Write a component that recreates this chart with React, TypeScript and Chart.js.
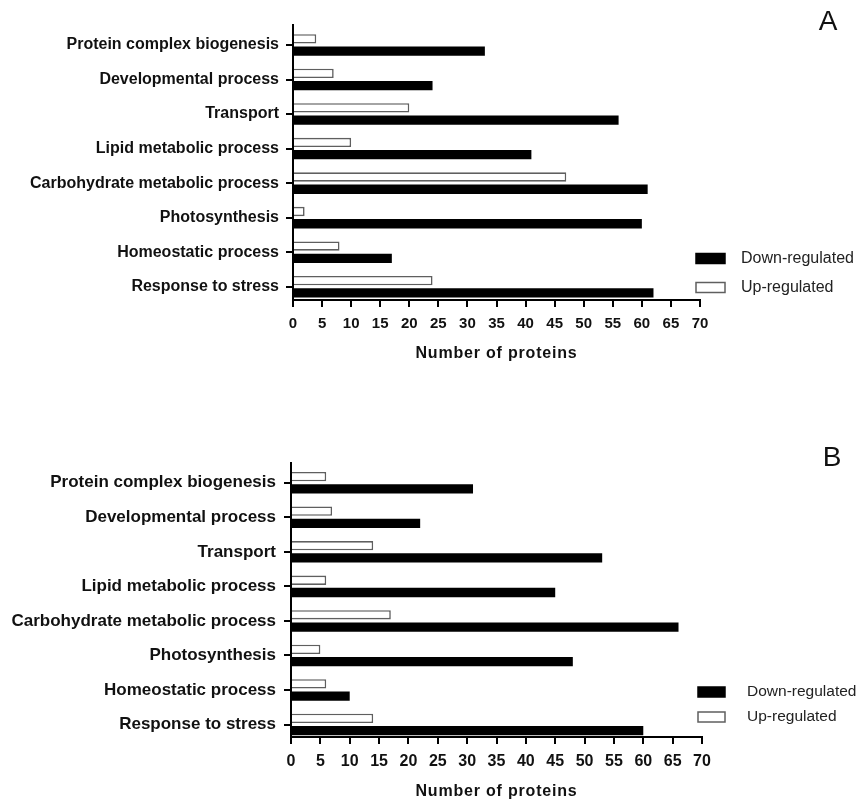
import React, { useEffect, useRef } from "react";
import { Chart, registerables } from "chart.js";

Chart.register(...registerables);

// ---------------- data ----------------
const categories = [
  "Protein complex biogenesis",
  "Developmental process",
  "Transport",
  "Lipid metabolic process",
  "Carbohydrate metabolic process",
  "Photosynthesis",
  "Homeostatic process",
  "Response to stress",
];
const seriesDown = "Down-regulated";
const seriesUp = "Up-regulated";
const aDown = [33, 24, 56, 41, 61, 60, 17, 62];
const aUp = [4, 7, 20, 10, 47, 2, 8, 24];
const bDown = [31, 22, 53, 45, 66, 48, 10, 60];
const bUp = [6, 7, 14, 6, 17, 5, 6, 14];
const xTickValues = [0, 5, 10, 15, 20, 25, 30, 35, 40, 45, 50, 55, 60, 65, 70];
const axisTitle = "Number of proteins";
const panelLetters = ["A", "B"];

// ---------------- styles ----------------
const FAMILY = "'Liberation Sans', Arial, Helvetica, sans-serif";
const UP_BORDER = "#5f5f5f";

type Panel = {
  top: number;
  height: number;
  areaLeft: number;
  areaRight: number;
  areaTop: number;
  areaBottom: number;
  yMin: number;
  yMax: number;
  yFont: number;
  xFont: number;
  titleFont: number;
  yPad: number;
  xPad: number;
  titlePadBottom: number;
  boxX: number;
  boxW: number;
  boxH: number;
  textX: number;
  legendRows: number[];
  legendFont: number;
  letter: string;
  letterX: number;
  letterBase: number;
  down: number[];
  up: number[];
};

const W = 867;

const panels: Panel[] = [
  {
    top: 0,
    height: 400,
    areaLeft: 293,
    areaRight: 700,
    areaTop: 25,
    areaBottom: 300,
    yMin: -0.579,
    yMax: 7.385,
    yFont: 16,
    xFont: 15,
    titleFont: 16,
    yPad: 7,
    xPad: 9,
    titlePadBottom: 38,
    boxX: 696,
    boxW: 29,
    boxH: 10,
    textX: 741,
    legendRows: [258.5, 287.5],
    legendFont: 16,
    letter: panelLetters[0],
    letterX: 828,
    letterBase: 30,
    down: aDown,
    up: aUp,
  },
  {
    top: 420,
    height: 381,
    areaLeft: 291,
    areaRight: 702,
    areaTop: 43,
    areaBottom: 317,
    yMin: -0.571,
    yMax: 7.36,
    yFont: 17,
    xFont: 16,
    titleFont: 16,
    yPad: 8,
    xPad: 10,
    titlePadBottom: 1,
    boxX: 698,
    boxW: 27,
    boxH: 10,
    textX: 747,
    legendRows: [272, 297],
    legendFont: 15.5,
    letter: panelLetters[1],
    letterX: 832,
    letterBase: 46,
    down: bDown,
    up: bUp,
  },
];

function makeDecor(p: Panel) {
  return {
    id: "decor",
    afterDraw(chart: any) {
      const ctx: CanvasRenderingContext2D = chart.ctx;
      ctx.save();
      const ds = chart.data.datasets;
      const order = [1, 0]; // legend lists Down-regulated first
      order.forEach((di, row) => {
        const d = ds[di];
        const cy = p.legendRows[row];
        ctx.fillStyle = d.backgroundColor;
        ctx.fillRect(p.boxX, cy - p.boxH / 2, p.boxW, p.boxH);
        ctx.lineWidth = 1.5;
        ctx.strokeStyle = d.borderColor;
        ctx.strokeRect(p.boxX, cy - p.boxH / 2, p.boxW, p.boxH);
        ctx.fillStyle = "#222";
        ctx.font = `${p.legendFont}px ${FAMILY}`;
        ctx.textAlign = "left";
        ctx.textBaseline = "middle";
        ctx.fillText(d.label, p.textX, cy);
      });
      ctx.fillStyle = "#111";
      ctx.font = `28px ${FAMILY}`;
      ctx.textAlign = "center";
      ctx.textBaseline = "alphabetic";
      ctx.fillText(p.letter, p.letterX, p.letterBase);
      ctx.restore();
    },
  };
}

function PanelChart({ p }: { p: Panel }) {
  const ref = useRef<HTMLCanvasElement | null>(null);
  useEffect(() => {
    if (!ref.current) return;
    const chart = new Chart(ref.current, {
      type: "bar",
      data: {
        datasets: [
          {
            label: seriesUp,
            data: p.up.map((v, i) => ({ x: v, y: i })),
            backgroundColor: "#ffffff",
            borderColor: UP_BORDER,
            borderWidth: 1.6,
            categoryPercentage: 0.71,
            barPercentage: 0.76,
          },
          {
            label: seriesDown,
            data: p.down.map((v, i) => ({ x: v, y: i })),
            backgroundColor: "#000000",
            borderColor: "#000000",
            borderWidth: 0,
            categoryPercentage: 0.71,
            barPercentage: 0.76,
          },
        ],
      },
      options: {
        indexAxis: "y",
        responsive: false,
        animation: false,
        devicePixelRatio: window.devicePixelRatio || 1,
        layout: {
          padding: {
            left: 0,
            top: p.areaTop,
            right: W - p.areaRight,
            bottom: 0,
          },
        },
        plugins: {
          legend: { display: false },
          tooltip: { enabled: false },
          title: { display: false },
        },
        scales: {
          y: {
            type: "linear",
            reverse: true,
            offset: false,
            min: p.yMin,
            max: p.yMax,
            afterBuildTicks: (scale: any) => {
              scale.ticks = categories.map((_, i) => ({ value: i }));
            },
            afterFit: (scale: any) => {
              scale.width = p.areaLeft;
            },
            ticks: {
              autoSkip: false,
              padding: p.yPad,
              color: "#111",
              font: { family: FAMILY, size: p.yFont, weight: "bold", lineHeight: 1 },
              callback: (v: any) => categories[v as number] ?? "",
            },
            grid: {
              display: true,
              offset: false,
              drawOnChartArea: false,
              drawTicks: true,
              tickLength: 7,
              color: "#000",
              lineWidth: 2,
            },
            border: { display: true, color: "#000", width: 2 },
          },
          x: {
            type: "linear",
            offset: false,
            min: xTickValues[0],
            max: xTickValues[xTickValues.length - 1],
            afterBuildTicks: (scale: any) => {
              scale.ticks = xTickValues.map((v) => ({ value: v }));
            },
            afterFit: (scale: any) => {
              scale.height = p.height - p.areaBottom;
              if (!scale.__spaced) {
                const orig = scale.drawTitle;
                scale.drawTitle = function (...args: any[]) {
                  const c = this.ctx as any;
                  const prev = c.letterSpacing;
                  c.letterSpacing = "0.8px";
                  orig.apply(this, args);
                  c.letterSpacing = prev ?? "0px";
                };
                scale.__spaced = true;
              }
            },
            ticks: {
              autoSkip: false,
              maxRotation: 0,
              padding: p.xPad,
              color: "#111",
              font: { family: FAMILY, size: p.xFont, weight: "bold", lineHeight: 1 },
            },
            grid: {
              display: true,
              offset: false,
              drawOnChartArea: false,
              drawTicks: true,
              tickLength: 7,
              color: "#000",
              lineWidth: 2,
            },
            border: { display: true, color: "#000", width: 2 },
            title: {
              display: true,
              text: axisTitle,
              color: "#111",
              font: { family: FAMILY, size: p.titleFont, weight: "bold", lineHeight: 1 },
              padding: { top: 0, bottom: p.titlePadBottom },
            },
          },
        },
      } as any,
      plugins: [makeDecor(p)],
    });
    return () => chart.destroy();
  }, [p]);
  return (
    <canvas
      ref={ref}
      width={W}
      height={p.height}
      style={{ position: "absolute", left: 0, top: p.top, width: W, height: p.height }}
    />
  );
}

export default function App() {
  return (
    <div
      style={{
        position: "absolute",
        left: 0,
        top: 0,
        width: W,
        height: 801,
        background: "#ffffff",
        overflow: "hidden",
      }}
    >
      {panels.map((p, i) => (
        <PanelChart key={i} p={p} />
      ))}
    </div>
  );
}
